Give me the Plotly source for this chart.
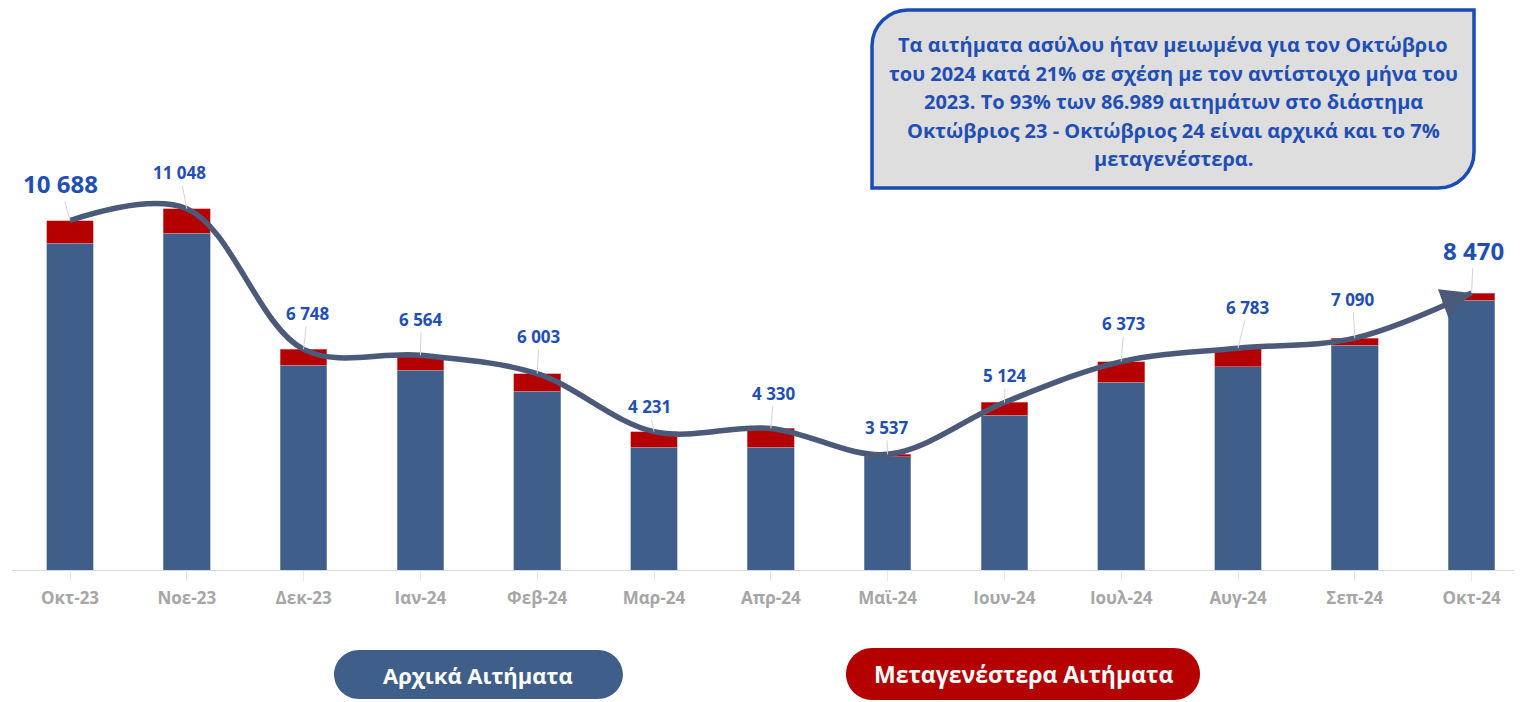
import plotly.graph_objects as go

months = ["Οκτ-23", "Νοε-23", "Δεκ-23", "Ιαν-24", "Φεβ-24", "Μαρ-24", "Απρ-24",
          "Μαϊ-24", "Ιουν-24", "Ιουλ-24", "Αυγ-24", "Σεπ-24", "Οκτ-24"]
totals = [10688, 11048, 6748, 6564, 6003, 4231, 4330, 3537, 5124, 6373, 6783, 7090, 8470]
initial = [9991, 10297, 6269, 6116, 5474, 3752, 3752, 3466, 4731, 5740, 6217, 6871, 8257]
later = [t - i for t, i in zip(totals, initial)]

box_lines = ["Τα αιτήματα ασύλου ήταν μειωμένα για τον Οκτώβριο",
             "του 2024 κατά 21% σε σχέση με τον αντίστοιχο μήνα του",
             "2023. Το 93% των 86.989 αιτημάτων στο διάστημα",
             "Οκτώβριος 23 - Οκτώβριος 24 είναι αρχικά και το 7%",
             "μεταγενέστερα."]
legend_labels = ["Αρχικά Αιτήματα", "Μεταγενέστερα Αιτήματα"]

BLUE = "#3f5f8a"
RED = "#b40000"
LINE = "#4b5a78"
LABEL = "#1f4eb4"

# the page body has an 8px margin: the figure starts at screen (8, 8)
OFF = 8
W, H = 1522 - OFF, 702 - OFF
BASE = 570          # screen y of the x axis
ML = 12 - OFF
MR, MT = 0, 20 - OFF
MB = H - (BASE - OFF)
PW, PH = W - ML - MR, H - MT - MB


def px(x):
    # screen x -> paper
    return (x - OFF - ML) / PW


def py(y):
    # screen y -> paper
    return (BASE - y) / PH


def rrect(x0, y0, x1, y1, tl, tr, br, bl):
    k = 0.5523
    pts = [f"M{px(x0 + tl)},{py(y0)}", f"L{px(x1 - tr)},{py(y0)}"]
    if tr:
        pts.append(f"C{px(x1 - tr + tr * k)},{py(y0)} {px(x1)},{py(y0 + tr - tr * k)} {px(x1)},{py(y0 + tr)}")
    pts.append(f"L{px(x1)},{py(y1 - br)}")
    if br:
        pts.append(f"C{px(x1)},{py(y1 - br + br * k)} {px(x1 - br + br * k)},{py(y1)} {px(x1 - br)},{py(y1)}")
    pts.append(f"L{px(x0 + bl)},{py(y1)}")
    if bl:
        pts.append(f"C{px(x0 + bl - bl * k)},{py(y1)} {px(x0)},{py(y1 - bl + bl * k)} {px(x0)},{py(y1 - bl)}")
    pts.append(f"L{px(x0)},{py(y0 + tl)}")
    if tl:
        pts.append(f"C{px(x0)},{py(y0 + tl - tl * k)} {px(x0 + tl - tl * k)},{py(y0)} {px(x0 + tl)},{py(y0)}")
    pts.append("Z")
    return " ".join(pts)


x_idx = list(range(len(months)))
# category spacing 116.8px, first category centred at screen x 70
x_lo = -(70 - 12) / 116.8
x_hi = x_lo + 1510 / 116.8

fig = go.Figure()
fig.add_trace(go.Bar(x=x_idx, y=initial, marker=dict(color=BLUE, line=dict(width=0.6, color="#8fa2bd")),
                     width=0.4, name=legend_labels[0]))
fig.add_trace(go.Bar(x=x_idx, y=later, marker=dict(color=RED, line=dict(width=0.6, color="#d98080")),
                     width=0.4, name=legend_labels[1]))
fig.add_trace(go.Scatter(x=x_idx, y=totals, mode="lines",
                         line=dict(color=LINE, width=5.5, shape="spline", smoothing=1.0),
                         hoverinfo="skip"))

offsets = [(-10, -37), (-7, -36), (4, -36), (1, -36), (2, -37), (-5, -25), (3, -35),
           (-1, -27), (1, -27), (3, -38), (10, -41), (-2, -39), (2, -43)]
annotations = []
for i, (t, (ax, ay)) in enumerate(zip(totals, offsets)):
    big = i in (0, len(totals) - 1)
    annotations.append(dict(
        x=i, y=t, xref="x", yref="y", ax=ax, ay=ay,
        text=f"{t:,}".replace(",", " "), showarrow=True, arrowhead=0,
        arrowwidth=1, arrowcolor="#d4d4d4", standoff=0, startstandoff=0,
        font=dict(family="Open Sans", size=24 if big else 17, color=LABEL, weight="bold")))

# arrowhead at the end of the trend line
annotations.append(dict(x=len(totals) - 1, y=totals[-1], xref="x", yref="y", ax=-30, ay=11,
                        text="", showarrow=True, arrowhead=2, arrowsize=1.1, arrowwidth=5.5,
                        arrowcolor=LINE, standoff=0))

# text box, one annotation per line
for j, line in enumerate(box_lines):
    annotations.append(dict(x=px(1173), y=py(45 + 28.5 * j), xref="paper", yref="paper",
                            showarrow=False, text=line, xanchor="center", yanchor="middle",
                            font=dict(family="Open Sans", size=20, color=LABEL, weight="bold")))

# legend pills
annotations.append(dict(x=px(478), y=py(675), xref="paper", yref="paper", showarrow=False,
                        text=legend_labels[0], xanchor="center", yanchor="middle",
                        font=dict(family="Open Sans", size=22, color="white", weight="bold")))
annotations.append(dict(x=px(1023), y=py(674), xref="paper", yref="paper", showarrow=False,
                        text=legend_labels[1], xanchor="center", yanchor="middle",
                        font=dict(family="Open Sans", size=23, color="white", weight="bold")))

shapes = [
    dict(type="path", xref="paper", yref="paper", path=rrect(872, 10, 1474, 188, 36, 0, 36, 0),
         fillcolor="#dedede", line=dict(color="#1a4db3", width=3.5), layer="above"),
    dict(type="path", xref="paper", yref="paper", path=rrect(334, 650, 623, 699, 25, 25, 25, 25),
         fillcolor=BLUE, line=dict(width=0), layer="below"),
    dict(type="path", xref="paper", yref="paper", path=rrect(846, 648, 1200, 700, 26, 26, 26, 26),
         fillcolor=RED, line=dict(width=0), layer="below"),
]

fig.update_layout(
    width=W, height=H,
    margin=dict(l=ML, r=MR, t=MT, b=MB),
    barmode="stack",
    showlegend=False,
    plot_bgcolor="white", paper_bgcolor="white",
    annotations=annotations, shapes=shapes,
    xaxis=dict(range=[x_lo, x_hi], tickmode="array", tickvals=x_idx, ticktext=months,
               showline=True, linecolor="#d9d9d9", linewidth=1,
               ticks="outside", ticklen=10, tickcolor="#e6e6e6", tickson="boundaries",
               ticklabelstandoff=3,
               showgrid=False, zeroline=False, fixedrange=True,
               tickfont=dict(family="Open Sans", size=17, color="#a6a6a6", weight="bold")),
    yaxis=dict(range=[0, PH / 0.0327], visible=False, showgrid=False, zeroline=False),
)

fig.write_html("out.html")
